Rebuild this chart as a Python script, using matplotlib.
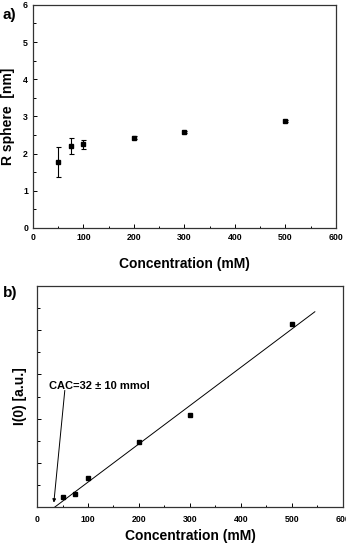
import matplotlib
matplotlib.use("Agg")
import matplotlib.pyplot as plt
from matplotlib.ticker import MultipleLocator

plt.rcParams['font.family'] = ['Liberation Sans', 'DejaVu Sans']
plt.rcParams['font.weight'] = 'bold'

# panel a
conc_a = [50, 75, 100, 200, 300, 500]
r_sphere = [1.78, 2.20, 2.25, 2.43, 2.59, 2.87]
r_err = [0.40, 0.22, 0.12, 0.03, 0.03, 0.03]

# panel b
conc_b = [50, 75, 100, 200, 300, 500]
i0 = [0.22, 0.29, 0.65, 1.48, 2.08, 4.14]
fit_x = [35, 545]
fit_y = [0.0, 4.42]
cac_label = "CAC=32 ± 10 mmol"

fig = plt.figure(figsize=(3.46, 5.44), dpi=100)

def style(ax, pad):
    for s in ax.spines.values():
        s.set_linewidth(0.9)
        s.set_color('#333333')
    ax.tick_params(direction='in', which='both', top=False, right=False, labelsize=6.3, width=0.7)
    ax.tick_params(which='major', length=3)
    ax.tick_params(which='minor', length=1.8)
    ax.tick_params(axis='x', which='major', pad=pad)
    for lab in ax.get_xticklabels() + ax.get_yticklabels():
        lab.set_fontweight('bold')

ax1 = fig.add_axes([0.095, 0.581, 0.876, 0.410])
ax1.errorbar(conc_a, r_sphere, yerr=r_err, fmt='s', color='black', ms=3.3,
             elinewidth=0.8, capsize=1.8, capthick=0.8)
ax1.set_xlim(0, 600)
ax1.set_ylim(0, 6)
ax1.xaxis.set_major_locator(MultipleLocator(100))
ax1.xaxis.set_minor_locator(MultipleLocator(50))
ax1.yaxis.set_major_locator(MultipleLocator(1))
ax1.yaxis.set_minor_locator(MultipleLocator(0.5))
style(ax1, 3.5)
ax1.set_xlabel("Concentration (mM)", fontsize=10, fontweight='bold', labelpad=11)
ax1.set_ylabel("R sphere  [nm]", fontsize=10, fontweight='bold', labelpad=6)
fig.text(0.008, 0.972, "a)", fontsize=11, fontweight='bold', va='center')

ax2 = fig.add_axes([0.107, 0.068, 0.884, 0.406])
ax2.plot(conc_b, i0, 's', color='black', ms=3.3)
ax2.plot(fit_x, fit_y, '-', color='black', lw=0.7)
ax2.set_xlim(0, 600)
ax2.set_ylim(0, 5)
ax2.xaxis.set_major_locator(MultipleLocator(100))
ax2.xaxis.set_minor_locator(MultipleLocator(50))
ax2.yaxis.set_major_locator(MultipleLocator(1))
ax2.yaxis.set_minor_locator(MultipleLocator(0.5))
ax2.set_yticklabels([])
style(ax2, 5.5)
ax2.set_xlabel("Concentration (mM)", fontsize=10, fontweight='bold', labelpad=4)
ax2.set_ylabel("I(0) [a.u.]", fontsize=10, fontweight='bold', labelpad=4)
ax2.annotate("", xy=(33, 0.1), xytext=(54.5, 2.64),
             arrowprops=dict(arrowstyle='-|>', color='black', lw=0.7,
                             mutation_scale=5, shrinkA=0, shrinkB=0))
ax2.text(23, 2.75, cac_label, fontsize=8, fontweight='bold', va='center', ha='left')
fig.text(0.008, 0.462, "b)", fontsize=11, fontweight='bold', va='center')

fig.savefig("out.png", dpi=100)
